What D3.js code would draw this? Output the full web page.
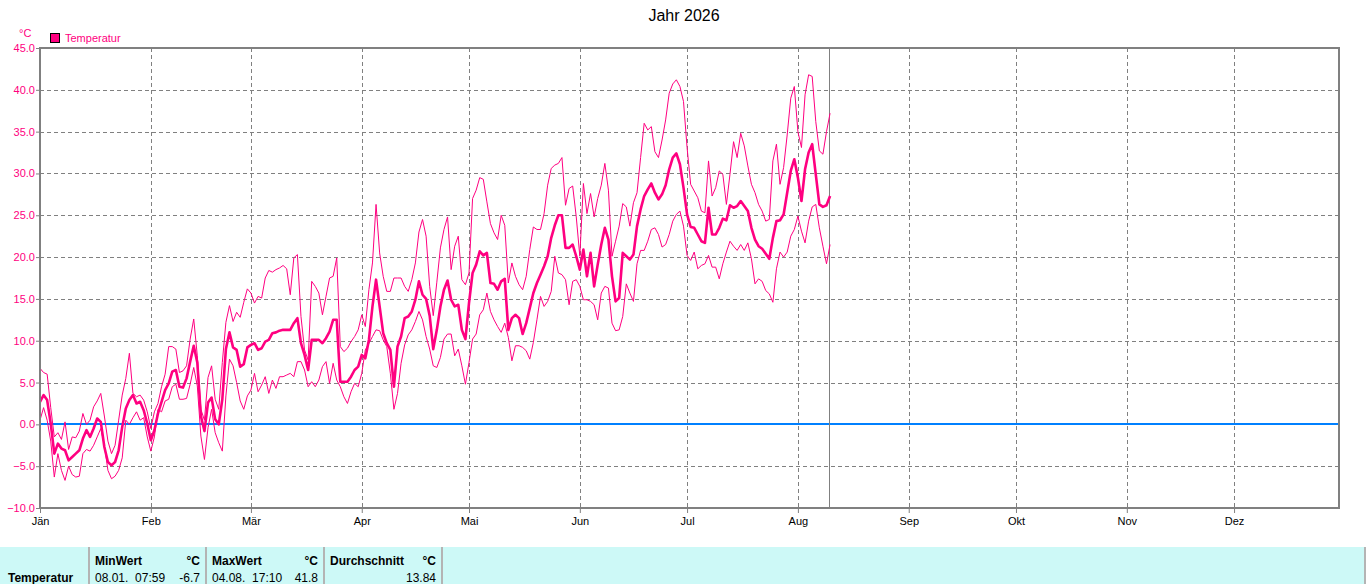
<!DOCTYPE html>
<meta charset="utf-8">
<style>
  body { margin: 0; background: #fff; }
  text { font-family: "Liberation Sans", Arial, sans-serif; }
</style>
<script src="https://d3js.org/d3.v7.min.js"></script>
<div id="chart"></div>
<script>

// daily values from 1 Jan 2026 on, one per day
var tMax = [6.7,6.2,6.0,2.0,-1.5,-1.0,-1.8,0.3,-3.0,-1.5,-1.6,-0.8,1.3,0.0,0.5,2.1,2.8,3.7,1.0,-2.0,
  -3.5,-2.5,0.5,3.5,5.5,8.5,3.7,3.3,3.5,2.9,1.5,-0.5,1.5,2.5,4.5,6.0,9.3,9.3,9.0,6.2,
  6.4,7.0,10.2,12.6,8.2,1.8,0.5,5.6,7.0,3.0,1.8,7.4,12.2,14.2,12.3,13.4,12.8,14.6,16.2,15.7,
  14.5,15.3,15.1,17.5,18.4,18.2,18.5,18.7,19.0,18.6,15.5,19.9,20.3,12.9,8.9,7.7,17.1,16.5,15.7,13.1,
  15.3,17.5,17.7,19.9,9.3,8.7,9.1,9.9,10.5,11.3,13.1,11.7,16.1,19.3,26.3,20.5,17.7,15.9,15.9,17.5,
  17.5,17.5,16.5,15.9,17.3,19.3,23.0,24.5,22.5,16.5,13.0,17.0,21.1,23.3,24.8,18.5,21.3,22.5,17.3,16.7,
  18.1,27.0,28.0,29.5,29.3,26.6,24.0,22.9,22.1,25.0,23.8,16.9,19.3,17.7,16.7,16.1,17.7,20.9,23.6,23.3,
  23.3,25.2,28.6,30.6,31.0,31.2,31.9,26.2,28.2,28.5,24.8,20.1,28.8,25.2,27.6,24.8,27.0,28.6,31.2,28.0,
  20.1,21.9,23.7,26.4,26.0,23.7,26.5,27.7,31.9,36.0,35.2,35.6,32.6,31.9,34.0,36.4,39.6,40.7,41.2,40.4,
  38.6,33.1,28.7,27.9,27.1,25.5,25.3,31.5,27.3,28.3,30.3,29.9,26.3,29.9,33.8,31.9,34.8,33.3,30.9,28.7,
  27.7,26.3,25.5,24.3,24.5,31.5,33.5,28.7,30.7,34.6,39.0,40.4,35.0,33.1,39.4,41.8,41.6,36.2,32.7,32.3,
  35.0,37.2];

var tMean = [2.7,3.5,2.9,0.1,-3.5,-2.3,-2.9,-3.1,-4.3,-3.9,-3.5,-3.1,-1.7,-0.7,-1.5,-0.5,0.7,0.3,-2.7,-4.5,
  -4.9,-4.5,-3.1,-0.3,1.9,2.9,3.5,2.5,2.7,1.7,0.1,-1.9,-0.7,1.3,2.7,4.1,4.9,6.3,6.5,4.5,
  4.4,5.5,7.5,9.4,7.4,1.0,-0.8,2.6,3.2,0.6,0.0,3.0,9.0,11.0,9.2,8.9,6.9,7.2,9.2,9.5,
  9.7,8.9,9.1,9.9,10.1,10.9,11.0,11.2,11.3,11.3,11.3,12.1,12.7,9.7,8.3,6.5,10.1,10.1,10.1,9.7,
  10.3,11.1,12.5,12.5,5.1,5.1,5.1,5.7,6.5,6.9,8.3,7.9,10.1,14.1,17.3,14.1,10.9,9.7,8.9,4.5,
  9.3,10.5,12.7,12.9,13.5,14.9,17.1,15.5,15.0,13.0,9.0,11.3,14.1,16.1,17.2,14.9,14.1,14.3,11.3,10.2,
  14.5,18.1,19.1,20.7,20.2,20.5,16.9,16.8,16.1,17.1,17.4,11.3,12.7,13.1,12.7,10.8,12.1,13.9,15.7,16.9,
  17.9,18.9,20.1,22.3,23.8,25.0,25.0,21.1,21.1,21.5,20.1,18.5,20.9,17.7,20.5,16.5,19.1,21.5,23.5,22.1,
  17.7,14.7,15.1,20.5,20.1,19.7,20.3,23.7,25.7,27.3,28.1,28.8,27.7,26.9,27.5,28.6,30.5,31.9,32.4,31.1,
  28.3,25.1,23.6,23.5,22.7,21.9,21.7,25.9,22.7,22.7,23.5,24.6,24.4,26.2,25.9,26.1,26.7,26.1,25.5,23.5,
  22.1,21.3,21.0,20.4,19.8,22.3,24.3,24.4,25.1,27.7,30.3,31.7,29.5,26.7,30.5,32.5,33.5,29.9,26.3,26.0,
  26.2,27.3];

var tMin = [0.5,2.0,0.5,-2.0,-6.3,-3.5,-5.5,-6.7,-5.0,-6.0,-6.3,-6.2,-3.5,-3.0,-3.2,-2.5,-1.5,-0.5,-2.5,-5.5,
  -6.5,-6.2,-5.5,-4.0,0.5,0.0,0.8,1.5,0.5,0.8,-1.5,-3.2,-1.5,1.8,1.5,2.8,3.0,4.5,4.8,3.0,
  3.0,3.1,4.8,6.8,4.6,-1.4,-4.2,-0.4,1.8,-1.0,-2.2,-3.2,3.4,7.8,7.0,5.0,2.8,1.8,3.4,4.1,
  6.1,3.9,4.7,5.7,3.7,5.3,4.3,5.7,5.7,5.9,6.1,5.7,7.5,7.5,6.5,4.5,5.1,4.5,5.3,6.9,
  7.5,4.9,7.3,5.3,4.5,3.3,2.5,3.9,4.9,4.5,6.1,8.9,9.7,10.5,11.3,11.2,10.1,9.3,6.1,1.8,
  3.7,7.3,9.5,10.7,11.3,12.3,13.5,12.5,10.5,9.0,7.0,6.8,8.0,10.2,10.8,10.8,8.2,9.0,7.0,4.8,
  7.4,10.2,10.8,13.1,13.7,15.7,13.5,12.5,11.7,11.0,12.1,10.4,7.6,9.4,9.4,9.2,8.8,7.8,9.8,12.5,
  15.3,14.1,14.7,15.9,20.1,18.1,17.9,17.3,14.3,17.1,17.3,16.5,14.9,14.9,14.7,14.3,12.5,15.7,16.5,16.3,
  12.1,11.2,11.3,12.9,16.8,15.7,14.7,19.2,20.8,20.8,21.9,23.3,23.5,22.7,21.2,21.5,22.7,24.3,25.1,25.5,
  23.7,20.2,19.6,20.6,18.6,19.0,19.2,20.2,18.8,18.8,17.4,19.2,20.6,21.9,21.3,20.8,21.5,20.8,21.7,19.8,
  16.8,17.4,17.1,16.0,15.6,14.6,18.6,20.6,20.0,20.6,22.5,23.3,24.9,23.1,21.7,24.3,26.0,26.3,23.5,21.3,
  19.2,21.5];

var months = ["Jän","Feb","Mär","Apr","Mai","Jun","Jul","Aug","Sep","Okt","Nov","Dez"];
var yTicks = [-10,-5,0,5,10,15,20,25,30,35,40,45];
var nowDay = 221;

var statHead = ["MinWert","MaxWert","Durchschnitt"];
var statWhen = ["08.01.  07:59","04.08.  17:10",""];
var statVal  = ["-6.7","41.8","13.84"];

var W = 1366, H = 584;
var margin = {top: 48, right: 27, bottom: 76, left: 40},
    width = W - margin.left - margin.right,
    height = H - margin.top - margin.bottom;

var pink = "#ff0080", grey = "#808080";

var svg = d3.select("#chart").append("svg")
    .attr("width", W).attr("height", H);

// the time axis runs a little past the right frame edge
var start = new Date(2026, 0, 1), end = new Date(2027, 0, 1);
var x = d3.scaleTime().domain([start, end]).range([margin.left, margin.left + 365 * 3.575]);
var y = d3.scaleLinear().domain([-10, 45]).range([margin.top + height, margin.top]);

function day(i) { return d3.timeDay.offset(start, i); }

// title
svg.append("text").attr("x", 684).attr("y", 21).attr("text-anchor", "middle")
  .style("font-size", "16px").text("Jahr 2026");

// unit + legend
svg.append("text").attr("x", 19).attr("y", 37).attr("fill", pink)
  .style("font-size", "11px").text("°C");
svg.append("rect").attr("x", 50.5).attr("y", 33.5).attr("width", 9).attr("height", 9)
  .attr("fill", pink).attr("stroke", "#000");
svg.append("text").attr("x", 65).attr("y", 42).attr("fill", pink)
  .style("font-size", "11px").text("Temperatur");

// grid
var monthStarts = months.map(function(m, i) { return new Date(2026, i, 1); });
var grid = svg.append("g").attr("stroke", grey).attr("stroke-dasharray", "4,3")
  .attr("shape-rendering", "crispEdges");
grid.selectAll(".hg").data(yTicks.slice(1, -1)).enter().append("line")
  .attr("x1", margin.left).attr("x2", margin.left + width)
  .attr("y1", function(d) { return Math.round(y(d)) + 0.5; })
  .attr("y2", function(d) { return Math.round(y(d)) + 0.5; });
grid.selectAll(".vg").data(monthStarts.slice(1)).enter().append("line")
  .attr("y1", margin.top).attr("y2", margin.top + height)
  .attr("x1", function(d) { return Math.round(x(d)) + 0.5; })
  .attr("x2", function(d) { return Math.round(x(d)) + 0.5; });

// zero line
svg.append("line").attr("x1", margin.left).attr("x2", margin.left + width)
  .attr("y1", y(0)).attr("y2", y(0)).attr("stroke", "#0080ff").attr("stroke-width", 2)
  .attr("shape-rendering", "crispEdges");

// current day marker
svg.append("line").attr("x1", Math.floor(x(day(nowDay))) - 0.5).attr("x2", Math.floor(x(day(nowDay))) - 0.5)
  .attr("y1", margin.top).attr("y2", margin.top + height).attr("stroke", grey)
  .attr("shape-rendering", "crispEdges");

// series
var line = d3.line().x(function(d, i) { return x(day(i)); }).y(function(d) { return y(d); });
[[tMax, 1], [tMin, 1], [tMean, 2.6]].forEach(function(s) {
  svg.append("path").datum(s[0]).attr("d", line)
    .attr("fill", "none").attr("stroke", pink).attr("stroke-width", s[1])
    .attr("stroke-linejoin", "round");
});

// frame
svg.append("rect").attr("x", margin.left).attr("y", margin.top)
  .attr("width", width).attr("height", height)
  .attr("fill", "none").attr("stroke", grey).attr("stroke-width", 2)
  .attr("shape-rendering", "crispEdges");

// y axis
var yAxis = svg.append("g").attr("transform", "translate(" + margin.left + ",0)")
  .call(d3.axisLeft(y).tickValues(yTicks).tickFormat(d3.format(".1f")).tickSize(4).tickPadding(1));
yAxis.select(".domain").remove();
yAxis.selectAll("line").attr("stroke", grey);
yAxis.selectAll("text").attr("fill", pink).style("font-size", "11px")
  .style("font-family", "Liberation Sans, Arial, sans-serif");

// x axis
var xAxis = svg.append("g").attr("transform", "translate(0," + (margin.top + height) + ")")
  .call(d3.axisBottom(x).tickValues(monthStarts).tickFormat(function(d, i) { return months[i]; })
    .tickSize(5).tickPadding(4));
xAxis.select(".domain").remove();
xAxis.selectAll("line").attr("stroke", grey);
xAxis.selectAll("text").attr("fill", "#000").style("font-size", "11px")
  .style("font-family", "Liberation Sans, Arial, sans-serif");

// stats table
var tbl = svg.append("g");
tbl.append("rect").attr("x", 0).attr("y", 547).attr("width", W).attr("height", H - 547).attr("fill", "#cdf9f7");
var seps = [88, 205, 323, 441, 1364];
tbl.selectAll(".sep").data(seps).enter().append("rect")
  .attr("x", function(d) { return d; }).attr("y", 547).attr("width", 2).attr("height", H - 547)
  .attr("fill", "#b4b4b4");
tbl.append("text").attr("x", 8).attr("y", 582).style("font-size", "12px")
  .style("font-weight", "bold").text("Temperatur");
statHead.forEach(function(h, i) {
  var x0 = seps[i] + 7, x1 = seps[i + 1] - 5;
  tbl.append("text").attr("x", x0).attr("y", 565).style("font-size", "12px")
    .style("font-weight", "bold").text(h);
  tbl.append("text").attr("x", x1).attr("y", 565).attr("text-anchor", "end")
    .style("font-size", "12px").style("font-weight", "bold").text("°C");
  tbl.append("text").attr("x", x0).attr("y", 582).style("font-size", "12px")
    .attr("xml:space", "preserve").style("white-space", "pre").text(statWhen[i]);
  tbl.append("text").attr("x", x1).attr("y", 582).attr("text-anchor", "end")
    .style("font-size", "12px").text(statVal[i]);
});

</script>
